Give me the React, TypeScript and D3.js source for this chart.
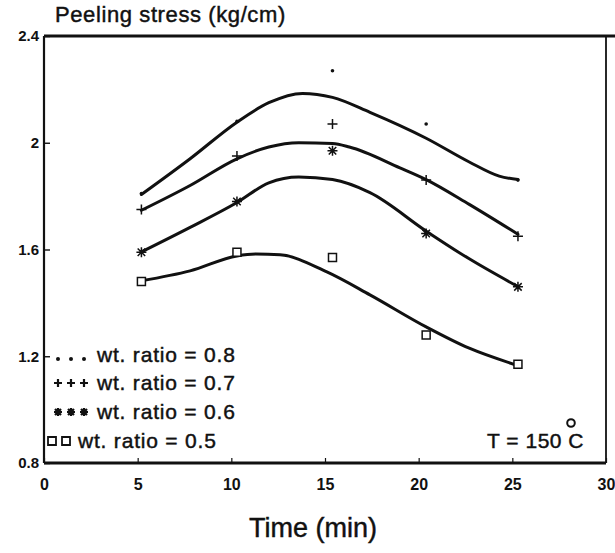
import React, { useEffect, useRef } from "react";
import * as d3 from "d3";

// measured points (time in min, peeling stress in kg/cm)
const times = [5.2, 10.3, 15.4, 20.4, 25.3];
const ratio08 = [1.81, 2.08, 2.27, 2.07, 1.86];
const ratio07 = [1.75, 1.95, 2.07, 1.86, 1.65];
const ratio06 = [1.59, 1.78, 1.97, 1.66, 1.46];
const ratio05 = [1.48, 1.59, 1.57, 1.28, 1.17];

// fitted curves as [time, stress]
const fit08: [number, number][] = [
  [5.2, 1.806], [7.8, 1.94], [10.3, 2.077], [12.0, 2.15], [13.8, 2.185],
  [15.4, 2.17], [17.4, 2.114], [20.4, 2.017], [22.7, 1.928], [24.3, 1.875], [25.3, 1.862],
];
const fit07: [number, number][] = [
  [5.2, 1.747], [7.8, 1.84], [10.3, 1.94], [12.0, 1.984], [13.6, 2.0],
  [15.4, 1.997], [16.3, 1.984], [19.0, 1.906], [20.4, 1.862], [22.7, 1.769], [25.3, 1.657],
];
const fit06: [number, number][] = [
  [5.2, 1.591], [7.8, 1.683], [10.3, 1.776], [12.0, 1.85], [13.6, 1.872],
  [15.4, 1.862], [17.4, 1.813], [20.4, 1.669], [22.7, 1.565], [25.3, 1.461],
];
const fit05: [number, number][] = [
  [5.2, 1.483], [7.8, 1.52], [10.3, 1.576], [11.3, 1.583], [12.6, 1.58],
  [15.1, 1.516], [17.4, 1.43], [20.4, 1.31], [22.7, 1.23], [25.3, 1.165],
];

const xTicks = [0, 5, 10, 15, 20, 25, 30];
const yTicks = [0.8, 1.2, 1.6, 2, 2.4];
const yTickLabels = ["0.8", "1.2", "1.6", "2", "2.4"];
const legendLabels = ["wt. ratio = 0.8", "wt. ratio = 0.7", "wt. ratio = 0.6", "wt. ratio = 0.5"];
const markerKinds = ["dot", "plus", "star", "square"];

const W = 615;
const H = 553;
const FONT = "'Liberation Sans', Arial, Helvetica, sans-serif";

function markerPath(kind: string, s: number) {
  if (kind === "plus") return `M${-s},0H${s}M0,${-s}V${s}`;
  if (kind === "star") {
    const d = s * 0.75;
    return `M${-s},0H${s}M0,${-s}V${s}M${-d},${-d}L${d},${d}M${-d},${d}L${d},${-d}`;
  }
  if (kind === "square") return `M${-s},${-s}H${s}V${s}H${-s}Z`;
  return "";
}

export default function App() {
  const svgRef = useRef<SVGSVGElement | null>(null);

  useEffect(() => {
    const svg = d3.select(svgRef.current);
    svg.selectAll("*").remove();

    const x = d3.scaleLinear().domain([0, 30]).range([44, 606]);
    const y = d3.scaleLinear().domain([0.8, 2.4]).range([463, 36]);

    svg.append("rect").attr("width", W).attr("height", H).attr("fill", "#fff");

    // frame
    const g = svg.append("g").attr("stroke", "#111").attr("fill", "none");
    g.append("line").attr("x1", x(0)).attr("x2", W).attr("y1", y(2.4)).attr("y2", y(2.4)).attr("stroke-width", 2.8);
    g.append("line").attr("x1", x(0)).attr("x2", x(0)).attr("y1", y(2.4)).attr("y2", y(0.8)).attr("stroke-width", 2.2);
    g.append("line").attr("x1", x(0)).attr("x2", x(30)).attr("y1", y(0.8)).attr("y2", y(0.8)).attr("stroke-width", 3);
    g.append("line").attr("x1", x(30)).attr("x2", x(30)).attr("y1", y(2.4)).attr("y2", y(0.8)).attr("stroke-width", 1.8);

    // x axis
    const xa = svg
      .append("g")
      .attr("transform", `translate(0,${y(0.8)})`)
      .call(d3.axisBottom(x).tickValues(xTicks).tickSize(-5).tickPadding(16).tickFormat((d) => `${d}`));
    xa.select(".domain").remove();
    xa.selectAll("line").attr("stroke", "#111").attr("stroke-width", 1.2);
    xa.selectAll("text")
      .attr("fill", "#111")
      .style("font-family", FONT)
      .style("font-size", "16px")
      .style("font-weight", "bold");

    // y axis
    const ya = svg
      .append("g")
      .attr("transform", `translate(${x(0)},0)`)
      .call(
        d3
          .axisLeft(y)
          .tickValues(yTicks)
          .tickSize(-6)
          .tickPadding(5)
          .tickFormat((d, i) => yTickLabels[i])
      );
    ya.select(".domain").remove();
    ya.selectAll("line").attr("stroke", "#111").attr("stroke-width", 1.4);
    ya.selectAll("text")
      .attr("fill", "#111")
      .style("font-family", FONT)
      .style("font-size", "15px")
      .style("font-weight", "bold");

    // fitted curves
    const line = d3
      .line<[number, number]>()
      .x((d) => x(d[0]))
      .y((d) => y(d[1]))
      .curve(d3.curveMonotoneX);
    [fit08, fit07, fit06, fit05].forEach((f) => {
      svg
        .append("path")
        .datum(f)
        .attr("d", line)
        .attr("fill", "none")
        .attr("stroke", "#111")
        .attr("stroke-width", 3)
        .attr("stroke-linecap", "round");
    });

    // measured points
    const series = [ratio08, ratio07, ratio06, ratio05];
    series.forEach((vals, si) => {
      const kind = markerKinds[si];
      vals.forEach((v, i) => {
        const px = x(times[i]);
        const py = y(v);
        if (kind === "dot") {
          svg.append("circle").attr("cx", px).attr("cy", py).attr("r", 1.8).attr("fill", "#111");
        } else {
          svg
            .append("path")
            .attr("transform", `translate(${px},${py})`)
            .attr("d", markerPath(kind, kind === "square" ? 4 : 5))
            .attr("fill", kind === "square" ? "#fff" : "none")
            .attr("stroke", "#111")
            .attr("stroke-width", 1.5);
        }
      });
    });

    // heavier text, like the scanned print
    const ink = (sel: any) => sel.attr("fill", "#111").attr("stroke", "#111").attr("stroke-width", 0.45);

    // legend
    const legendY = [355, 383, 412, 441];
    const legendTextX = [97, 97, 97, 78];
    legendLabels.forEach((lab, i) => {
      const kind = markerKinds[i];
      const cy = legendY[i];
      const symX = kind === "square" ? [52, 66] : [58, 71, 84];
      symX.forEach((sx) => {
        if (kind === "dot") {
          svg.append("circle").attr("cx", sx).attr("cy", cy + 4).attr("r", 2).attr("fill", "#111");
        } else {
          svg
            .append("path")
            .attr("transform", `translate(${sx},${cy})`)
            .attr("d", markerPath(kind, 4))
            .attr("fill", "none")
            .attr("stroke", "#111")
            .attr("stroke-width", kind === "square" ? 1.8 : 2.2);
        }
      });
      svg
        .append("text")
        .attr("x", legendTextX[i])
        .attr("y", cy)
        .attr("dy", "0.35em")
        .call(ink)
        .style("font-family", FONT)
        .style("font-size", "21px")
        .style("letter-spacing", "0.8px")
        .text(lab);
    });

    // annotation
    svg
      .append("text")
      .attr("x", 584)
      .attr("y", 441)
      .attr("dy", "0.35em")
      .attr("text-anchor", "end")
      .call(ink)
      .style("font-family", FONT)
      .style("font-size", "21px")
      .style("letter-spacing", "0.5px")
      .text("T = 150 C");
    svg
      .append("circle")
      .attr("cx", 571)
      .attr("cy", 423)
      .attr("r", 3.8)
      .attr("fill", "none")
      .attr("stroke", "#111")
      .attr("stroke-width", 2);

    // axis titles
    svg
      .append("text")
      .attr("x", 55)
      .attr("y", 22)
      .call(ink)
      .style("font-family", FONT)
      .style("font-size", "22px")
      .style("letter-spacing", "0.6px")
      .text("Peeling stress (kg/cm)");
    svg
      .append("text")
      .attr("x", 313)
      .attr("y", 537)
      .attr("text-anchor", "middle")
      .call(ink)
      .style("font-family", FONT)
      .style("font-size", "27px")
      .text("Time (min)");
  }, []);

  return (
    <div style={{ position: "absolute", left: 0, top: 0 }}>
      <svg ref={svgRef} width={W} height={H} style={{ display: "block" }} />
    </div>
  );
}
